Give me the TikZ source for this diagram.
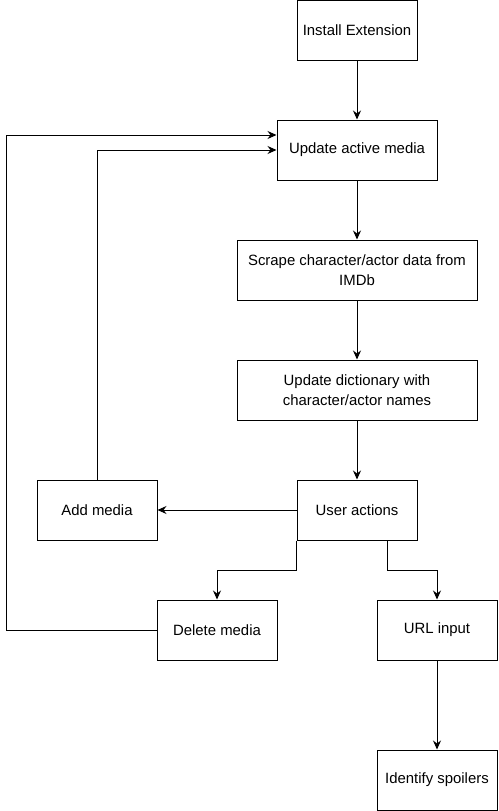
\documentclass[tikz,border=0pt]{standalone}
\usepackage{fontspec}
\setmainfont{Liberation Sans}
\usetikzlibrary{arrows.meta}
\usetikzlibrary{math}

\begin{document}
\begin{tikzpicture}[x=1pt,y=-1pt,
  box/.style={draw, line width=1pt, rectangle, inner sep=0pt, minimum width=120pt, minimum height=60pt, align=center, font=\fontsize{14.9}{20}\selectfont},
  midbox/.style={box, minimum width=160pt},
  widebox/.style={box, minimum width=240pt},
  flow/.style={-{Stealth[length=9pt,width=8pt,inset=3pt]}, line width=1pt}]
\tikzmath{
\bh=60;
\gap=30;
}
\useasboundingbox (0,0) rectangle (498,811);

\node[box] (install) at (357,30) {Install Extension};
\node[midbox] (active) at (357,150) {Update active media};
\node[widebox] (scrape) at (357,270) {Scrape character/actor data from\\IMDb};
\node[widebox] (dict) at (357,390) {Update dictionary with\\character/actor names};
\node[box] (user) at (357,510) {User actions};
\node[box] (add) at (97,510) {Add media};
\node[box] (delete) at (217,630) {Delete media};
\node[box] (url) at (437,630) {URL input};
\node[box] (spoil) at (437,780) {Identify spoilers};

\foreach \a/\b in {install/active, active/scrape, scrape/dict, dict/user, user/add, url/spoil}{
\draw[flow] (\a) -- (\b);
}

\draw[flow] (user.south west) -- ++(0,\gap) -| (delete);
\draw[flow] ([xshift=30pt]user.south) -- ++(0,\gap) -| (url);

\draw[flow] (add) |- (active.west);
\draw[flow] (delete.west) -- ++(-150,0) |- ([yshift=15pt]active.west);

\end{tikzpicture}
\end{document}
